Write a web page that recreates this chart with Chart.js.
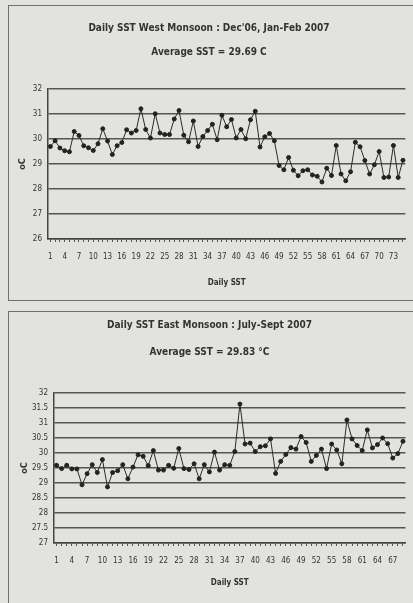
<!DOCTYPE html>
<html>
    <head>
        <style>
            body { margin: 0; background: #e2e2df; width: 413px; height: 603px; overflow: hidden; position: relative; }
            .box { position: absolute; border: 1px solid #707070; border-right: none; }
            #box1 { left: 8px; top: 5px; width: 410px; height: 294px; }
            #box2 { left: 8px; top: 311px; width: 410px; height: 300px; border-bottom: none; }
            .holder { position: absolute; }
            #h1 { left: 8px; top: 5px; width: 405px; height: 295px; }
            #h2 { left: 8px; top: 312px; width: 405px; height: 291px; }
        </style>
    </head>
    <body>
        <div class="box" id="box1"></div>
        <div class="box" id="box2"></div>
        <div class="holder" id="h1"><canvas id="westChart"></canvas></div>
        <div class="holder" id="h2"><canvas id="eastChart"></canvas></div>

        <script src="https://cdn.jsdelivr.net/npm/chart.js"></script>

        <script>
		// West monsoon, daily SST (75 days)
		const westDays = [];
		for (let i = 1; i <= 75; i++) westDays.push(String(i));
		const westSST = [
			29.70, 29.93, 29.64, 29.53, 29.49, 30.30, 30.14, 29.73, 29.65, 29.54,
			29.81, 30.41, 29.92, 29.38, 29.73, 29.86, 30.37, 30.24, 30.34, 31.21,
			30.38, 30.04, 31.01, 30.24, 30.18, 30.18, 30.80, 31.14, 30.15, 29.89,
			30.72, 29.70, 30.10, 30.34, 30.59, 29.97, 30.95, 30.49, 30.78, 30.04,
			30.38, 30.01, 30.77, 31.11, 29.68, 30.09, 30.22, 29.93, 28.94, 28.77,
			29.26, 28.75, 28.53, 28.73, 28.77, 28.56, 28.51, 28.28, 28.83, 28.54,
			29.74, 28.60, 28.33, 28.69, 29.87, 29.69, 29.14, 28.60, 28.97, 29.50,
			28.46, 28.48, 29.74, 28.46, 29.15
		];
		const westTitle = ["Daily SST West Monsoon : Dec'06, Jan-Feb 2007", "Average SST = 29.69 C"];

		// East monsoon, daily SST (69 days)
		const eastDays = [];
		for (let i = 1; i <= 69; i++) eastDays.push(String(i));
		const eastSST = [
			29.59, 29.48, 29.59, 29.47, 29.47, 28.94, 29.31, 29.61, 29.35, 29.78,
			28.87, 29.35, 29.41, 29.61, 29.14, 29.53, 29.94, 29.89, 29.58, 30.08,
			29.43, 29.43, 29.59, 29.49, 30.15, 29.48, 29.45, 29.64, 29.14, 29.61,
			29.37, 30.03, 29.43, 29.61, 29.59, 30.05, 31.63, 30.30, 30.33, 30.05,
			30.21, 30.24, 30.47, 29.32, 29.72, 29.95, 30.18, 30.13, 30.55, 30.35,
			29.72, 29.92, 30.13, 29.48, 30.30, 30.10, 29.64, 31.10, 30.47, 30.25,
			30.08, 30.77, 30.17, 30.28, 30.50, 30.31, 29.83, 29.98, 30.39
		];
		const eastTitle = ["Daily SST East Monsoon : July-Sept 2007", "Average SST = 29.83 \u00b0C"];

		const narrow = "'Liberation Sans Narrow', 'DejaVu Sans Condensed', Arial, sans-serif";
		const ink = '#333';

		function makeChart(id, labels, values, title, opt) {
			return new Chart(document.getElementById(id), {
				type: 'line',
				data: {
					labels: labels,
					datasets: [{
						data: values,
						borderColor: '#2a2a2a',
						borderWidth: 1,
						pointRadius: 2,
						pointBackgroundColor: '#222',
						pointBorderColor: '#222',
						tension: 0
					}]
				},
				options: {
					responsive: true,
					maintainAspectRatio: false,
					animation: false,
					layout: { padding: { left: 0, right: opt.right, top: 0, bottom: 0 } },
					plugins: {
						legend: { display: false },
						tooltip: { enabled: false },
						title: {
							display: true,
							text: title,
							color: ink,
							font: { family: narrow, size: 10, weight: 'bold', lineHeight: opt.titleLine },
							padding: { top: opt.titleTop, bottom: opt.titleBottom }
						}
					},
					scales: {
						x: {
							offset: true,
							grid: { drawOnChartArea: false, drawTicks: true, tickLength: 3, color: '#555' },
							border: { color: '#444', width: 1.5 },
							ticks: {
								autoSkip: false, maxRotation: 0, padding: 10,
								color: ink, font: { family: narrow, size: 8 },
								callback: function (v, i) { return i % 3 === 0 ? labels[i] : ''; }
							},
							title: {
								display: true, text: 'Daily SST', color: ink,
								font: { family: narrow, size: 8, weight: 'bold' },
								padding: { top: 0, bottom: opt.xTitleBottom }
							},
							afterFit: function (scale) { scale.height = opt.xHeight; }
						},
						y: {
							min: opt.min, max: opt.max,
							grid: { color: '#555', lineWidth: 1.4, drawTicks: false },
							border: { color: '#444', width: 1.5 },
							ticks: {
								stepSize: opt.step, padding: 6, color: ink, font: { family: narrow, size: 8 },
								callback: function (v) { return String(v); }
							},
							title: {
								display: true, text: 'oC', color: ink,
								font: { family: narrow, size: 9, weight: 'bold' },
								padding: { top: opt.yTitlePad, bottom: 0 }
							},
							afterFit: function (scale) { scale.width = opt.yWidth; }
						}
					}
				}
			});
		}

		makeChart('westChart', westDays, westSST, westTitle, {
			min: 26, max: 32, step: 1, right: 3,
			titleLine: 2.4, titleTop: 11, titleBottom: 25,
			xHeight: 61, xTitleBottom: 12, yWidth: 40, yTitlePad: 9
		});

		makeChart('eastChart', eastDays, eastSST, eastTitle, {
			min: 27, max: 32, step: 0.5, right: 2,
			titleLine: 2.7, titleTop: 0, titleBottom: 27,
			xHeight: 60, xTitleBottom: 15, yWidth: 46, yTitlePad: 11
		});
        </script>
    </body>
</html>
